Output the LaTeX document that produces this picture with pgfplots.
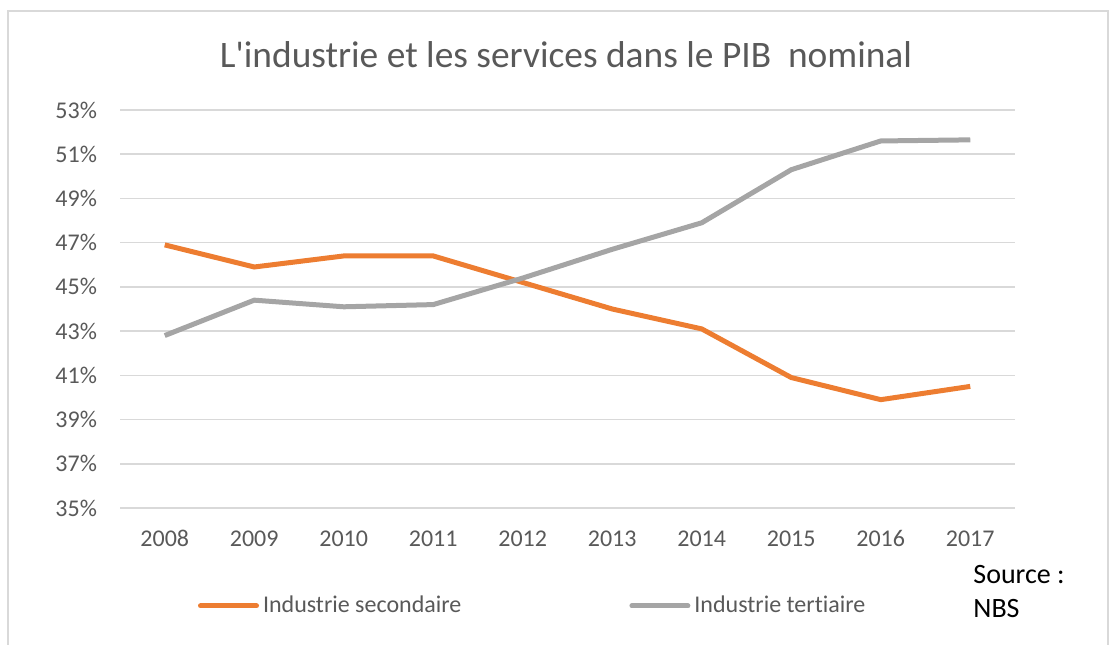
\documentclass[border=0pt]{standalone}
\usepackage{fontspec}
\setmainfont{Carlito}[Ligatures={TeX,NoCommon}]
\usepackage{pgfplots}
\pgfplotsset{compat=1.18}
\definecolor{orangeS}{RGB}{237,125,49}
\definecolor{grayT}{RGB}{165,165,165}
\definecolor{gridc}{RGB}{217,217,217}
\definecolor{txt}{RGB}{89,89,89}
\begin{document}
\begin{tikzpicture}
\path[use as bounding box] (0pt,0pt) rectangle (555.5pt,322pt);
\draw[gridc, line width=0.8pt] (4pt,-5pt) -- (4pt,316.5pt) -- (554pt,316.5pt) -- (554pt,-5pt);
\node[txt, font=\fontsize{18.7}{22}\selectfont, anchor=base, inner sep=0pt] at (283pt,288pt) {L\textquotesingle industrie et les services dans le PIB\ \ nominal};
\begin{axis}[
    at={(60pt,68pt)}, anchor=south west,
    width=447.5pt, height=199pt, scale only axis,
    xmin=2007.5, xmax=2017.5, ymin=35, ymax=53,
    xtick={2008,...,2017}, ytick={35,37,...,53},
    xticklabels={2008,2009,2010,2011,2012,2013,2014,2015,2016,2017},
    yticklabel={\pgfmathprintnumber{\tick}\%},
    /pgf/number format/assume math mode=true,
    tick label style={txt, font=\fontsize{12}{14}\selectfont},
    xticklabel style={anchor=base, yshift=-19pt},
    yticklabel style={xshift=-8pt},
    axis line style={draw=none},
    major tick length=0pt,
    ymajorgrids, grid style={gridc, line width=0.8pt},
    legend columns=2,
    legend style={at={(0.08,-0.246)}, anchor=west, draw=none, fill=none,
        font=\fontsize{12}{14}\selectfont, text=txt,
        /tikz/every even column/.append style={column sep=82pt}},
    legend image code/.code={\draw[#1, line cap=round] (0pt,0pt) -- (28pt,0pt);},
]
\addplot[orangeS, line width=2.5pt] coordinates {
    (2008,46.9) (2009,45.9) (2010,46.4) (2011,46.4) (2012,45.2)
    (2013,44.0) (2014,43.1) (2015,40.9) (2016,39.9) (2017,40.5)
};
\addlegendentry{Industrie secondaire}
\addplot[grayT, line width=2.5pt] coordinates {
    (2008,42.8) (2009,44.4) (2010,44.1) (2011,44.2) (2012,45.4)
    (2013,46.7) (2014,47.9) (2015,50.3) (2016,51.6) (2017,51.65)
};
\addlegendentry{Industrie tertiaire}
\end{axis}
\node[anchor=base west, inner sep=0pt, font=\fontsize{14}{16}\selectfont] at (486.5pt,30.5pt) {Source :};
\node[anchor=base west, inner sep=0pt, font=\fontsize{14}{16}\selectfont] at (486.5pt,13.5pt) {NBS};
\end{tikzpicture}
\end{document}
